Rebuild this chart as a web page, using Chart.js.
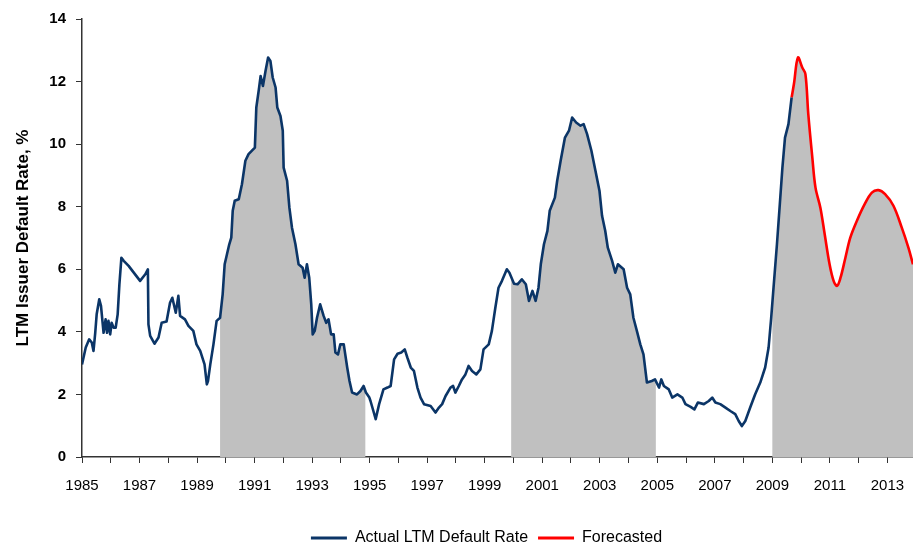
<!DOCTYPE html>
<html>
<head>
<meta charset="utf-8">
<title>LTM Issuer Default Rate</title>
<script src="https://cdn.jsdelivr.net/npm/chart.js@4.4.1/dist/chart.umd.min.js"></script>
<style>
  html, body { margin: 0; padding: 0; background: #fff; }
  canvas { display: block; }
</style>
</head>
<body>
<canvas id="chart" width="913" height="543"></canvas>
<script>
/* ---- datos ---- */
const actualYears = [
  1985.00, 1985.13, 1985.25, 1985.34, 1985.40, 1985.46, 1985.51, 1985.60, 1985.66, 1985.71,
  1985.75, 1985.82, 1985.87, 1985.92, 1985.98, 1986.03, 1986.10, 1986.17, 1986.24, 1986.30,
  1986.37, 1986.45, 1986.62, 1987.02, 1987.20, 1987.29, 1987.31, 1987.37, 1987.52, 1987.66,
  1987.77, 1987.94, 1988.06, 1988.14, 1988.26, 1988.35, 1988.41, 1988.58, 1988.70, 1988.87,
  1988.98, 1989.11, 1989.26, 1989.34, 1989.38, 1989.46, 1989.57, 1989.68, 1989.80, 1989.89,
  1989.96, 1990.04, 1990.12, 1990.19, 1990.24, 1990.31, 1990.45, 1990.56, 1990.68, 1990.79,
  1991.01, 1991.06, 1991.15, 1991.21, 1991.29, 1991.38, 1991.47, 1991.55, 1991.63, 1991.73,
  1991.79, 1991.90, 1991.98, 1992.01, 1992.13, 1992.21, 1992.30, 1992.42, 1992.53, 1992.67,
  1992.74, 1992.82, 1992.90, 1992.97, 1993.02, 1993.09, 1993.17, 1993.28, 1993.40, 1993.49,
  1993.57, 1993.66, 1993.75, 1993.81, 1993.90, 1993.98, 1994.10, 1994.22, 1994.30, 1994.39,
  1994.56, 1994.68, 1994.79, 1994.87, 1994.99, 1995.03, 1995.13, 1995.21, 1995.33, 1995.48,
  1995.62, 1995.73, 1995.85, 1995.97, 1996.10, 1996.22, 1996.31, 1996.43, 1996.54, 1996.66,
  1996.77, 1996.89, 1997.12, 1997.29, 1997.41, 1997.52, 1997.64, 1997.81, 1997.90, 1997.98,
  1998.10, 1998.21, 1998.33, 1998.44, 1998.56, 1998.71, 1998.85, 1998.96, 1999.14, 1999.25,
  1999.37, 1999.48, 1999.60, 1999.77, 1999.86, 2000.02, 2000.14, 2000.29, 2000.43, 2000.54,
  2000.66, 2000.77, 2000.87, 2000.95, 2001.06, 2001.18, 2001.26, 2001.44, 2001.52, 2001.64,
  2001.79, 2001.93, 2002.04, 2002.18, 2002.33, 2002.44, 2002.56, 2002.71, 2002.85, 2002.99,
  2003.08, 2003.19, 2003.28, 2003.43, 2003.54, 2003.63, 2003.83, 2003.95, 2004.06, 2004.17,
  2004.29, 2004.41, 2004.52, 2004.64, 2004.81, 2004.92, 2005.06, 2005.14, 2005.23, 2005.40,
  2005.52, 2005.70, 2005.87, 2005.98, 2006.16, 2006.29, 2006.41, 2006.62, 2006.79, 2006.91,
  2007.02, 2007.19, 2007.37, 2007.54, 2007.71, 2007.83, 2007.94, 2008.06, 2008.23, 2008.40,
  2008.58, 2008.75, 2008.87, 2008.96, 2009.04, 2009.16, 2009.26, 2009.35, 2009.44, 2009.56,
  2009.67
];
const actualRates = [
  2.96, 3.50, 3.76, 3.66, 3.39, 3.97, 4.56, 5.04, 4.83, 4.35,
  3.97, 4.40, 3.97, 4.35, 3.92, 4.29, 4.13, 4.13, 4.56, 5.52,
  6.37, 6.27, 6.11, 5.63, 5.84, 6.00, 4.24, 3.87, 3.62, 3.82,
  4.29, 4.33, 4.93, 5.09, 4.61, 5.15, 4.51, 4.40, 4.19, 4.03,
  3.60, 3.39, 2.96, 2.32, 2.43, 2.96, 3.60, 4.35, 4.45, 5.20,
  6.16, 6.48, 6.80, 7.01, 7.87, 8.19, 8.24, 8.72, 9.47, 9.68,
  9.89, 11.17, 11.76, 12.18, 11.86, 12.34, 12.77, 12.66, 12.13, 11.81,
  11.17, 10.90, 10.43, 9.25, 8.83, 7.97, 7.33, 6.80, 6.16, 6.05,
  5.73, 6.16, 5.73, 4.88, 3.92, 4.03, 4.45, 4.88, 4.51, 4.29,
  4.40, 3.92, 3.92, 3.34, 3.28, 3.60, 3.60, 2.86, 2.43, 2.06,
  2.00, 2.11, 2.27, 2.06, 1.90, 1.79, 1.47, 1.21, 1.69, 2.16,
  2.22, 2.27, 3.12, 3.30, 3.34, 3.44, 3.18, 2.86, 2.75, 2.22,
  1.90, 1.69, 1.63, 1.42, 1.58, 1.69, 1.95, 2.22, 2.27, 2.06,
  2.27, 2.48, 2.64, 2.91, 2.75, 2.64, 2.80, 3.44, 3.60, 4.03,
  4.77, 5.41, 5.63, 6.00, 5.89, 5.54, 5.52, 5.68, 5.52, 4.99,
  5.31, 4.99, 5.41, 6.16, 6.80, 7.23, 7.87, 8.29, 8.83, 9.47,
  10.21, 10.43, 10.85, 10.69, 10.59, 10.64, 10.32, 9.79, 9.15, 8.51,
  7.71, 7.23, 6.69, 6.27, 5.89, 6.16, 6.00, 5.41, 5.20, 4.45,
  4.03, 3.60, 3.28, 2.38, 2.43, 2.48, 2.22, 2.48, 2.27, 2.16,
  1.90, 2.00, 1.90, 1.69, 1.60, 1.52, 1.74, 1.69, 1.79, 1.90,
  1.74, 1.69, 1.58, 1.47, 1.37, 1.15, 0.99, 1.15, 1.58, 2.00,
  2.38, 2.86, 3.50, 4.45, 5.40, 6.80, 8.08, 9.25, 10.21, 10.64,
  11.49
];
const forecastYears = [
  2009.67, 2009.75, 2009.89, 2010.04, 2010.15, 2010.25, 2010.39, 2010.50, 2010.67, 2010.82,
  2010.99, 2011.13, 2011.25, 2011.37, 2011.54, 2011.71, 2011.94, 2012.21, 2012.46, 2012.69,
  2012.92, 2013.21, 2013.50, 2013.73, 2013.89
];
const forecastRates = [
  11.49, 11.92, 12.77, 12.45, 12.24, 10.96, 9.57, 8.61, 7.97, 7.12,
  6.16, 5.63, 5.47, 5.73, 6.37, 7.01, 7.55, 8.08, 8.45, 8.53,
  8.40, 8.03, 7.33, 6.69, 6.16
];
// periodos sombreados (gris bajo la curva)
const shadeFrom = [1989.80, 1999.92, 2009.00];
const shadeTo   = [1994.85, 2004.95, 2013.89];
const yearTicks = [];
for (let yr = 1985; yr <= 2013; yr++) yearTicks.push(yr);
const yTicks = [0, 2, 4, 6, 8, 10, 12, 14];

const NAVY = '#0b3567';
const ROJO = '#ff0000';
const GRIS = '#c0c0c0';
const EJE = '#333333';

Chart.defaults.font.family = '"Liberation Sans", Arial, sans-serif';
Chart.defaults.color = '#000';

/* relleno gris bajo la curva, recortado a cada periodo */
const sombraPlugin = {
  id: 'sombra',
  // la leyenda del original no está centrada en el lienzo: se corre un poco
  afterLayout(chart) {
    const lg = chart.legend;
    lg.left += 30; lg.right += 30;
    lg.top += 13; lg.bottom += 13;
  },
  beforeDatasetsDraw(chart) {
    const { ctx, chartArea, scales: { x, y } } = chart;
    const act = chart.getDatasetMeta(0).data;
    const fc = chart.getDatasetMeta(1).data;
    const base = y.getPixelForValue(0);
    shadeFrom.forEach((s, i) => {
      const x0 = x.getPixelForValue(s), x1 = x.getPixelForValue(shadeTo[i]);
      ctx.save();
      ctx.beginPath();
      ctx.rect(x0, chartArea.top, x1 - x0, base - chartArea.top);
      ctx.clip();
      ctx.beginPath();
      ctx.moveTo(act[0].x, base);
      act.forEach(p => ctx.lineTo(p.x, p.y));
      for (let k = 1; k < fc.length; k++) {
        const a = fc[k - 1], b = fc[k];
        ctx.bezierCurveTo(a.cp2x, a.cp2y, b.cp1x, b.cp1y, b.x, b.y);
      }
      ctx.lineTo(fc[fc.length - 1].x, base);
      ctx.closePath();
      ctx.fillStyle = GRIS;
      ctx.fill();
      ctx.restore();
    });
  }
};

new Chart(document.getElementById('chart').getContext('2d'), {
  type: 'line',
  data: {
    datasets: [
      {
        label: 'Actual LTM Default Rate',
        data: actualYears.map((v, i) => ({ x: v, y: actualRates[i] })),
        borderColor: NAVY, borderWidth: 2.6, pointRadius: 0, tension: 0, fill: false,
        borderJoinStyle: 'round',
      },
      {
        label: 'Forecasted',
        data: forecastYears.map((v, i) => ({ x: v, y: forecastRates[i] })),
        borderColor: ROJO, borderWidth: 2.6, pointRadius: 0, tension: 0.35, fill: false,
      },
    ],
  },
  options: {
    responsive: false,
    animation: false,
    layout: { padding: { top: 10, right: 0, left: 0, bottom: 0 } },
    plugins: {
      tooltip: { enabled: false },
      legend: {
        position: 'bottom',
        labels: {
          boxWidth: 36, boxHeight: 3, padding: 10,
          font: { size: 16 },
          generateLabels: chart => chart.data.datasets.map((d, i) => ({
            text: d.label, fillStyle: d.borderColor, strokeStyle: d.borderColor,
            lineWidth: 0, datasetIndex: i, hidden: false,
          })),
        },
      },
    },
    scales: {
      x: {
        type: 'linear',
        min: 1985, max: 2013.89,
        afterBuildTicks: s => { s.ticks = yearTicks.map(v => ({ value: v })); },
        // el área de trazo llega hasta el borde derecho del lienzo
        afterFit: s => { s.height = 50; s.paddingRight = 0; s.paddingLeft = 0; },
        ticks: {
          autoSkip: false, maxRotation: 0, padding: 14,
          font: { size: 15 },
          callback: v => (v % 2 === 1 ? String(v) : ''),
        },
        grid: { drawOnChartArea: false, drawTicks: true, tickLength: 6, color: EJE },
        border: { display: true, color: EJE, width: 1.5 },
      },
      y: {
        min: 0, max: 14,
        afterBuildTicks: s => { s.ticks = yTicks.map(v => ({ value: v })); },
        afterFit: s => { s.width = 82; },
        ticks: { padding: 10, font: { size: 15, weight: 'bold' } },
        grid: { drawOnChartArea: false, drawTicks: true, tickLength: 6, color: EJE },
        border: { display: true, color: EJE, width: 1.5 },
        title: {
          display: true, text: 'LTM Issuer Default Rate, %',
          font: { size: 17, weight: 'bold' }, padding: { top: 13, bottom: 0 },
        },
      },
    },
  },
  plugins: [sombraPlugin],
});
</script>
</body>
</html>
